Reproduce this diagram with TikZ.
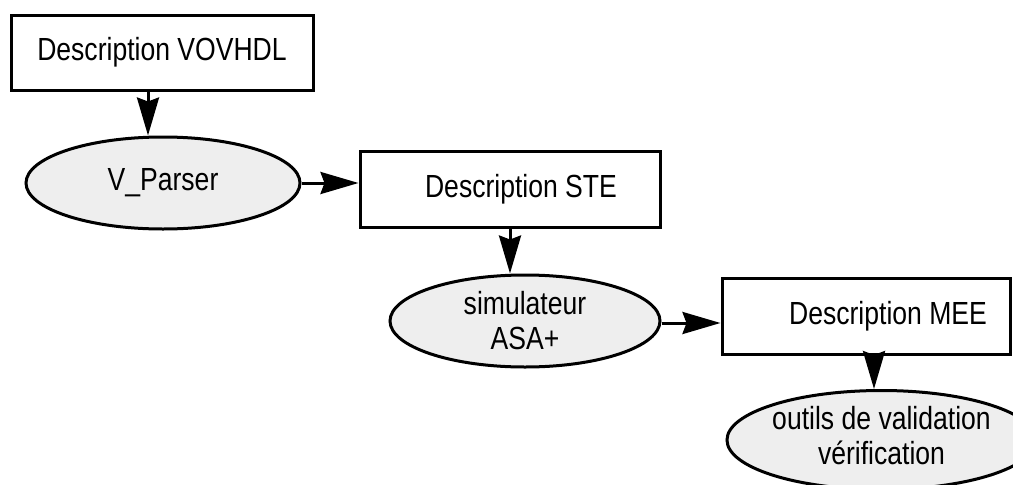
\documentclass[tikz,border=0pt]{standalone}
\usepackage{fontspec}
\setmainfont{Liberation Sans}[FakeStretch=0.83]
\usetikzlibrary{shapes.geometric,arrows.meta}

\tikzset{
  stage/.style={draw, line width=3pt, rectangle, inner sep=0pt, align=center,
    font=\fontsize{32}{35}\selectfont},
  tool/.style={draw, line width=3pt, ellipse, fill=gray!13, inner sep=0pt, align=center,
    font=\fontsize{32}{35}\selectfont},
  flow/.style={line width=3pt, -{Stealth[length=38pt,width=22pt,inset=4pt]}}
}

\begin{document}
\begin{tikzpicture}[x=1pt,y=-1pt]
  \useasboundingbox (0,0) rectangle (1013,485);

  % description files
  \node[stage, minimum width=302pt, minimum height=75pt] (b1) at (162,52.5) {Description VOVHDL};
  \node[stage, minimum width=300pt, minimum height=76pt] (b2) at (510,189) {\hspace*{22pt}Description STE};
  \node[stage, minimum width=288pt, minimum height=76pt] (b3) at (866,316) {\hspace*{44pt}Description MEE};

  % processing tools
  \node[tool, minimum width=274pt, minimum height=92pt] (e1) at (163,183) {V\_Parser};
  \node[tool, minimum width=270pt, minimum height=92pt] (e2) at (525,321) {simulateur\\ASA+};
  \node[tool, minimum width=257pt, minimum height=84pt] (e3) at (881.5,440)
    {\raisebox{-8pt}{\begin{tabular}{@{}c@{}}outils de validation\\vérification\end{tabular}}};

  % flow between stages
  \coordinate (s2) at ([yshift=-2pt]e2.east);
  \draw[flow] ([xshift=-14pt]b1.south) -- ([xshift=-14pt]b1.south |- e1.north);
  \draw[flow] (e1.east) -- (b2.west |- e1.east);
  \draw[flow] (b2.south) -- (b2.south |- e2.north);
  \draw[flow] (s2) -- (b3.west |- s2);
  \draw[flow] ([xshift=8pt]b3.south) -- ([xshift=8pt]b3.south |- e3.north);
\end{tikzpicture}
\end{document}
